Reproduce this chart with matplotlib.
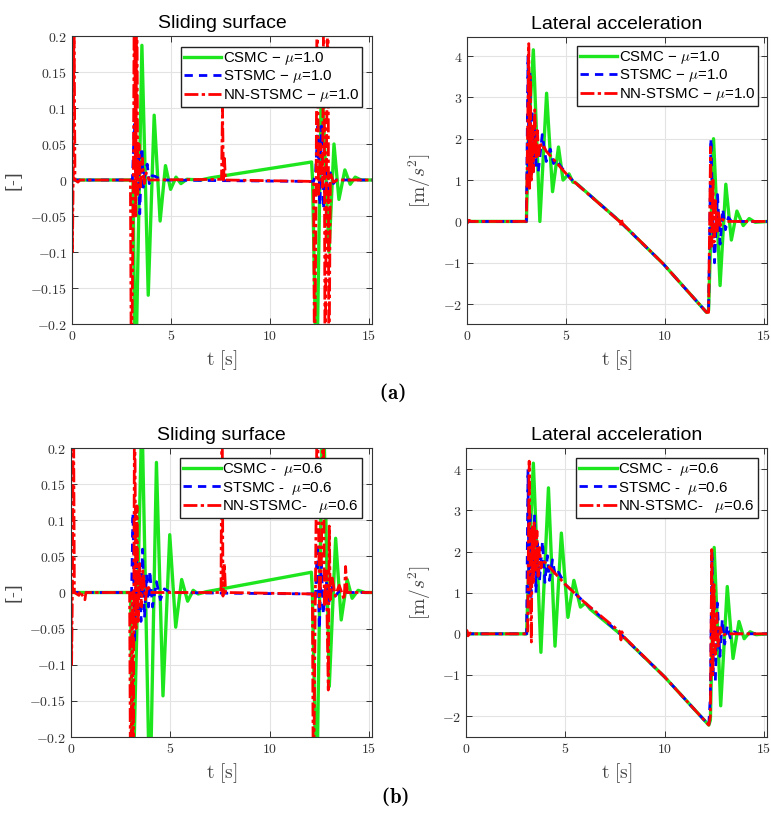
import matplotlib
matplotlib.use("Agg")
import matplotlib.pyplot as plt
from matplotlib.ticker import FuncFormatter

plt.rcParams['mathtext.fontset'] = 'cm'
plt.rcParams['font.family'] = ['Liberation Sans', 'DejaVu Sans']

# ---- (a) mu = 1.0 : sliding surface ----
tl_csmc_t = [0, 3.0, 3.08, 3.2, 3.53, 3.85, 4.15, 4.45, 4.72, 4.98, 5.25, 5.5, 5.8, 6.5, 7.0, 12.1, 12.15, 12.35, 12.6, 12.98, 13.23, 13.48, 13.78, 14.05, 14.3, 14.6, 15.2]
tl_csmc_s = [0, 0, 0, -0.3, 0.187, -0.16, 0.09, -0.057, 0.02, -0.013, 0.004, -0.005, 0.001, 0, 0.003, 0.025, 0.0, -0.3, 0.15, -0.1, 0.05, -0.027, 0.014, -0.006, 0.004, 0, 0]
tl_sts_t = [0, 3.05, 3.15, 3.25, 3.35, 3.42, 3.53, 3.6, 3.7, 3.8, 3.9, 4.05, 4.2, 4.4, 4.6, 8.0, 12.2, 12.3, 12.42, 12.52, 12.6, 12.7, 12.82, 12.92, 13.05, 13.2, 13.4, 13.6, 15.2]
tl_sts_s = [0, 0, 0.077, -0.02, 0.03, -0.047, 0.045, -0.01, 0.015, 0.022, -0.005, 0.006, 0.005, 0.002, 0, -0.001, -0.002, 0.01, 0.075, -0.035, 0.075, -0.04, 0.02, -0.02, 0.01, -0.005, 0.002, 0, 0]
tl_nn_t = [0, 0.02, 0.06, 0.1, 0.15, 0.3, 0.4, 2.95, 3.0, 3.1, 3.15, 3.22, 3.27, 3.32, 3.38, 3.45, 3.55, 3.65, 3.75, 3.9, 7.55, 7.6, 7.65, 7.7, 7.75, 12.2, 12.25, 12.33, 12.38, 12.45, 12.55, 12.65, 12.72, 12.78, 12.85, 12.93, 12.97, 13.05, 13.2, 13.4, 15.2]
tl_nn_s = [0, -0.1, 0.0, 0.25, 0.0, -0.003, 0, 0, -0.3, 0.0, 0.3, -0.05, 0.3, -0.02, 0.05, -0.01, 0.03, -0.005, 0.01, 0, 0.001, 0.1, 0.0, 0.03, 0, -0.002, -0.3, 0.0, 0.3, -0.02, 0.05, -0.01, 0.3, -0.3, 0.02, 0.3, -0.3, 0.01, -0.003, 0, 0]

# ---- (a) mu = 1.0 : lateral acceleration ----
tr_csmc_t = [0, 3.0, 3.1, 3.35, 3.68, 4.02, 4.32, 4.62, 4.85, 5.15, 5.35, 5.5, 7.72, 9.9, 12.1, 12.2, 12.45, 12.78, 13.07, 13.35, 13.63, 13.95, 14.25, 14.55, 15.2]
tr_csmc_a = [0, 0, 2.0, 4.15, 0.0, 3.1, 0.72, 1.8, 1.0, 1.15, 0.95, 0.93, 0.0, -1.02, -2.2, -2.15, 2.0, -1.55, 0.9, -0.45, 0.25, -0.1, 0.07, -0.02, 0]
tr_sts_t = [0, 3.0, 3.08, 3.13, 3.18, 3.23, 3.28, 3.35, 3.42, 3.5, 3.6, 3.8, 4.0, 4.2, 4.37, 4.5, 4.7, 5.2, 7.72, 9.9, 12.1, 12.2, 12.32, 12.42, 12.5, 12.65, 12.78, 12.92, 13.05, 13.2, 13.4, 13.6, 15.2]
tr_sts_a = [0, 0, 4.0, 1.0, 3.6, 1.2, 2.7, 1.2, 2.4, 1.3, 1.2, 2.1, 1.45, 1.75, 1.4, 1.5, 1.35, 1.05, 0.0, -1.02, -2.2, -2.15, 2.0, -0.1, -1.0, 0.65, -0.55, 0.3, -0.2, 0.1, -0.03, 0, 0]
tr_nn_t = [0, 0.1, 0.2, 3.0, 3.12, 3.16, 3.2, 3.25, 3.3, 3.35, 3.42, 3.5, 3.55, 3.62, 3.7, 3.8, 3.9, 4.0, 5.2, 7.7, 7.75, 7.8, 7.85, 9.9, 12.1, 12.2, 12.3, 12.36, 12.42, 12.48, 12.55, 12.62, 12.7, 12.8, 12.9, 13.1, 15.2]
tr_nn_a = [-0.05, 0.03, 0, 0, 4.3, 0.8, 3.5, 1.0, 2.3, 1.2, 2.7, 1.5, 2.2, 1.6, 1.9, 1.75, 1.8, 1.7, 1.05, 0.0, -0.1, 0.05, -0.05, -1.02, -2.2, -2.2, 1.8, -0.6, 1.0, -0.5, 0.5, -0.3, 0.25, -0.1, 0.05, 0, 0]

# ---- (b) mu = 0.6 : sliding surface ----
bl_csmc_t = [0, 3.0, 3.1, 3.57, 3.97, 4.3, 4.63, 4.97, 5.27, 5.57, 5.87, 6.15, 6.4, 6.8, 12.1, 12.15, 12.36, 12.68, 13.0, 13.32, 13.6, 13.9, 14.15, 14.45, 14.8, 15.2]
bl_csmc_s = [0, 0, -0.3, 0.25, -0.3, 0.18, -0.143, 0.08, -0.048, 0.018, -0.012, 0.003, -0.002, 0.001, 0.028, 0.0, -0.3, 0.3, -0.13, 0.075, -0.038, 0.018, -0.008, 0.003, 0, 0]
bl_sts_t = [0, 3.05, 3.12, 3.2, 3.28, 3.35, 3.45, 3.52, 3.6, 3.7, 3.8, 3.9, 3.97, 4.1, 4.3, 4.5, 4.7, 5.0, 8.0, 12.2, 12.3, 12.4, 12.5, 12.6, 12.7, 12.85, 13.0, 13.15, 13.3, 13.5, 13.7, 15.2]
bl_sts_s = [0, 0, 0.11, -0.07, 0.05, -0.03, 0.04, -0.04, 0.06, -0.035, 0.025, -0.02, 0.03, -0.02, 0.015, -0.01, 0.005, 0, -0.001, -0.002, -0.01, 0.068, -0.05, 0.04, -0.03, 0.015, -0.012, 0.008, -0.005, 0.002, 0, 0]
bl_nn_t = [0, 0.03, 0.07, 0.12, 0.17, 0.4, 0.45, 0.7, 0.75, 2.95, 3.0, 3.08, 3.13, 3.2, 3.27, 3.32, 3.38, 3.45, 3.55, 3.62, 3.75, 3.85, 4.0, 7.55, 7.6, 7.65, 7.72, 7.78, 12.15, 12.2, 12.3, 12.4, 12.5, 12.6, 12.7, 12.75, 12.85, 12.95, 13.0, 13.05, 13.15, 13.3, 13.5, 13.75, 13.82, 13.9, 15.2]
bl_nn_s = [0, -0.1, 0, 0.3, 0, -0.004, 0.002, -0.01, 0, 0, -0.3, 0, -0.3, 0.3, -0.05, 0.12, -0.04, 0.04, -0.02, 0.03, -0.01, 0.01, 0, 0, 0.3, -0.005, 0.04, 0, -0.002, -0.3, 0, 0.3, -0.02, 0.04, 0.3, -0.02, 0.03, -0.135, 0.092, -0.01, 0.02, -0.005, 0.01, -0.01, 0.036, 0, 0]

# ---- (b) mu = 0.6 : lateral acceleration ----
br_csmc_t = [0, 3.05, 3.15, 3.39, 3.77, 4.15, 4.48, 4.8, 5.13, 5.43, 5.76, 6.01, 6.25, 7.8, 10.0, 12.22, 12.3, 12.49, 12.82, 13.15, 13.44, 13.74, 14.0, 14.3, 14.6, 15.2]
br_csmc_a = [0, 0, 1.5, 4.15, -0.45, 3.55, -0.3, 2.45, 0.4, 1.3, 0.65, 0.75, 0.6, -0.02, -1.05, -2.22, -2.1, 2.1, -1.75, 1.15, -0.6, 0.3, -0.12, 0.05, -0.02, 0]
br_sts_t = [0, 3.05, 3.12, 3.17, 3.22, 3.27, 3.32, 3.38, 3.45, 3.52, 3.6, 3.7, 3.85, 3.97, 4.1, 4.2, 4.35, 4.5, 4.65, 5.0, 6.0, 7.8, 10.0, 12.22, 12.3, 12.38, 12.45, 12.55, 12.65, 12.78, 12.9, 13.02, 13.15, 13.3, 13.5, 13.7, 15.2]
br_sts_a = [0, 0, 4.0, 1.0, 3.0, 0.5, 2.5, 1.3, 2.9, 1.0, 2.2, 1.3, 2.25, 1.25, 1.9, 1.3, 1.8, 1.4, 1.5, 1.2, 0.75, -0.02, -1.05, -2.22, -1.5, 2.0, -1.0, -1.15, 0.75, -0.55, 0.35, -0.25, 0.2, -0.1, 0.05, 0, 0]
br_nn_t = [0, 0.05, 0.1, 0.2, 0.3, 3.1, 3.18, 3.24, 3.29, 3.33, 3.38, 3.43, 3.5, 3.57, 3.63, 3.7, 3.78, 3.85, 3.95, 5.0, 6.0, 7.75, 7.8, 7.85, 7.9, 10.0, 12.22, 12.3, 12.37, 12.42, 12.48, 12.55, 12.62, 12.7, 12.8, 12.9, 13.1, 15.2]
br_nn_a = [0, 0.08, -0.05, 0.02, 0, 0, 4.2, 1.0, -0.2, 2.6, 1.2, 2.7, 1.5, 2.5, 1.4, 2.1, 1.6, 1.8, 1.75, 1.2, 0.75, 0.05, -0.15, 0.05, -0.05, -1.05, -2.22, -2.0, 2.05, -1.0, 1.2, -0.5, 0.5, -0.3, 0.15, -0.05, 0, 0]

labels_a = ['CSMC \u2212 $\\mu$=1.0', 'STSMC \u2212 $\\mu$=1.0', 'NN-STSMC \u2212 $\\mu$=1.0']
labels_b = ['CSMC -  $\\mu$=0.6', 'STSMC -  $\\mu$=0.6', 'NN-STSMC-   $\\mu$=0.6']

W, H = 771, 821
fig = plt.figure(figsize=(W / 100, H / 100), dpi=100)


def make_ax(l, t, r, b):
    # pixel box -> figure fraction
    return fig.add_axes([l / W, 1 - b / H, (r - l) / W, (b - t) / H])


def draw(ax, series, labels, ylim, yticks, title, ylabel, ylab_x, leg_anchor):
    (tc, yc), (ts, ys), (tn, yn) = series
    ax.plot(tc, yc, color='#1ee61e', lw=2.4, label=labels[0])
    ax.plot(ts, ys, color='#0000ff', lw=2.0, ls=(0, (3, 2.2)), label=labels[1])
    ax.plot(tn, yn, color='#ff0000', lw=2.0, ls=(0, (5, 1.2, 1.2, 1.2)), label=labels[2])
    ax.set_xlim(0, 15.15)
    ax.set_ylim(*ylim)
    ax.set_xticks([0, 5, 10, 15])
    ax.set_yticks(yticks)
    fmt = FuncFormatter(lambda v, p: '$%g$' % round(v, 3))
    ax.xaxis.set_major_formatter(fmt)
    ax.yaxis.set_major_formatter(fmt)
    ax.tick_params(direction='in', top=True, right=True, labelsize=10,
                   colors='#333333', length=4, width=0.7)
    ax.grid(True, color='#e3e3e3', lw=0.8)
    for sp in ax.spines.values():
        sp.set_color('#333333')
        sp.set_linewidth(0.8)
    ax.set_title(title, fontsize=14, pad=6)
    ax.set_xlabel(r'$\mathrm{t}\ [\mathrm{s}]$', fontsize=14, color='#444444', labelpad=4)
    if ylabel == '[-]':
        ax.set_ylabel(ylabel, fontsize=13, color='#444444', family='DejaVu Serif')
    else:
        ax.set_ylabel(ylabel, fontsize=14, color='#444444')
    ax.yaxis.set_label_coords(ylab_x, 0.5)
    leg = ax.legend(loc='upper right', bbox_to_anchor=leg_anchor, borderaxespad=0,
                    fancybox=False, framealpha=1, edgecolor='#222222', fontsize=10.8,
                    handlelength=2.5, handletextpad=0.1, labelspacing=0.1,
                    borderpad=0.2)
    leg.get_frame().set_linewidth(1.0)


ax1 = make_ax(72, 36, 372, 324)
draw(ax1, [(tl_csmc_t, tl_csmc_s), (tl_sts_t, tl_sts_s), (tl_nn_t, tl_nn_s)], labels_a,
     (-0.2, 0.2), [-0.2, -0.15, -0.1, -0.05, 0, 0.05, 0.1, 0.15, 0.2],
     'Sliding surface', '[-]', -0.167, (0.967, 0.962))

ax2 = make_ax(467, 37, 767, 324)
draw(ax2, [(tr_csmc_t, tr_csmc_a), (tr_sts_t, tr_sts_a), (tr_nn_t, tr_nn_a)], labels_a,
     (-2.48, 4.46), [-2, -1, 0, 1, 2, 3, 4],
     'Lateral acceleration', r'$[\mathrm{m}/s^2]$', -0.113, (0.97, 0.969))

ax3 = make_ax(71, 448, 372, 737)
draw(ax3, [(bl_csmc_t, bl_csmc_s), (bl_sts_t, bl_sts_s), (bl_nn_t, bl_nn_s)], labels_b,
     (-0.2, 0.2), [-0.2, -0.15, -0.1, -0.05, 0, 0.05, 0.1, 0.15, 0.2],
     'Sliding surface', '[-]', -0.163, (0.967, 0.965))

ax4 = make_ax(466, 448, 767, 737)
draw(ax4, [(br_csmc_t, br_csmc_a), (br_sts_t, br_sts_a), (br_nn_t, br_nn_a)], labels_b,
     (-2.51, 4.52), [-2, -1, 0, 1, 2, 3, 4],
     'Lateral acceleration', r'$[\mathrm{m}/s^2]$', -0.11, (0.97, 0.965))

fig.text(392 / W, 1 - 393 / H, r'($\mathbf{a}$)', ha='center', va='center', fontsize=15, family='DejaVu Serif')
fig.text(395 / W, 1 - 797 / H, r'($\mathbf{b}$)', ha='center', va='center', fontsize=15, family='DejaVu Serif')

fig.savefig('out.png', dpi=100)
